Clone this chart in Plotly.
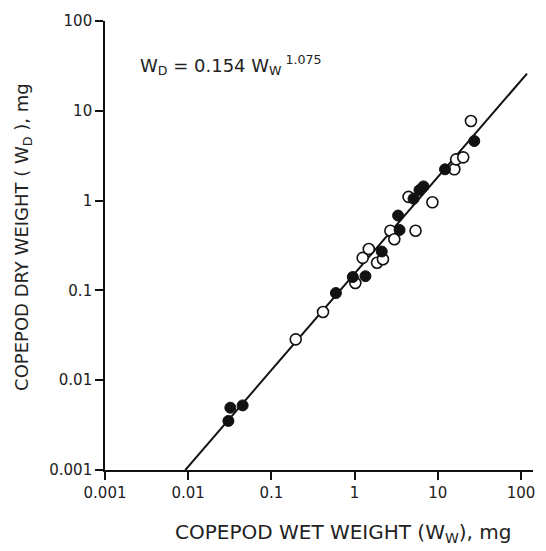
import plotly.graph_objects as go

# Tick positions / labels
tick_vals = [0.001, 0.01, 0.1, 1, 10, 100]
tick_text = ["0.001", "0.01", "0.1", "1", "10", "100"]

# Open circles (wet weight mg, dry weight mg)
open_wet = [0.196, 0.417, 1.02, 1.25, 1.48, 1.86, 2.19, 2.69, 3.00, 5.40, 4.45, 8.61, 15.8, 16.6, 20.2, 25.0]
open_dry = [0.0285, 0.0574, 0.121, 0.230, 0.289, 0.203, 0.222, 0.462, 0.371, 0.462, 1.10, 0.957, 2.23, 2.88, 3.03, 7.7]

# Filled circles
fill_wet = [0.0304, 0.0321, 0.0451, 0.596, 0.951, 1.35, 2.12, 3.47, 3.33, 5.11, 6.02, 6.73, 12.2, 27.4]
fill_dry = [0.00352, 0.00494, 0.00524, 0.0935, 0.141, 0.144, 0.271, 0.471, 0.682, 1.05, 1.31, 1.44, 2.23, 4.61]

# Regression W_D = a * W_W ^ b, drawn between these wet weights
coef_a = 0.154
coef_b = 1.075
fit_wet = [0.0092, 118]
fit_dry = [coef_a * w ** coef_b for w in fit_wet]

FONT = "DejaVu Sans"

fig = go.Figure()
fig.add_trace(go.Scatter(x=fit_wet, y=fit_dry, mode="lines",
                         line=dict(color="#111", width=2), showlegend=False,
                         cliponaxis=False))
fig.add_trace(go.Scatter(x=open_wet, y=open_dry, mode="markers",
                         marker=dict(symbol="circle", size=11, color="white",
                                     line=dict(color="#111", width=1.6)),
                         showlegend=False))
fig.add_trace(go.Scatter(x=fill_wet, y=fill_dry, mode="markers",
                         marker=dict(symbol="circle", size=11, color="#111",
                                     line=dict(color="#111", width=1)),
                         showlegend=False))

axis_common = dict(type="log", showgrid=False, zeroline=False, showline=True,
                   linecolor="#111", linewidth=1.6, ticks="outside", ticklen=8,
                   tickwidth=1.5, tickcolor="#111", tickvals=tick_vals,
                   ticktext=tick_text,
                   tickfont=dict(family=FONT, size=15, color="#222"))

fig.update_xaxes(range=[-3, 2.144], **axis_common)
fig.update_yaxes(range=[-3, 2], **axis_common)

fig.add_annotation(text="COPEPOD WET WEIGHT (W<sub>W</sub>), mg",
                   xref="paper", yref="paper", x=0.558, y=-0.14,
                   xanchor="center", yanchor="middle", showarrow=False,
                   font=dict(family=FONT, size=20, color="#222"))
fig.add_annotation(text="COPEPOD DRY WEIGHT ( W<sub>D</sub> ), mg",
                   xref="paper", yref="paper", x=-0.193, y=0.52,
                   xanchor="center", yanchor="middle", textangle=-90,
                   showarrow=False,
                   font=dict(family=FONT, size=18, color="#222"))
fig.add_annotation(text="W<sub>D</sub> = 0.154 W<sub>W</sub><sup> 1.075</sup>",
                   xref="paper", yref="paper", x=0.077, y=0.902,
                   xanchor="left", yanchor="middle", showarrow=False,
                   font=dict(family=FONT, size=18, color="#222"))

fig.update_layout(width=546, height=551,
                  margin=dict(l=105, r=11, t=21, b=81),
                  plot_bgcolor="white", paper_bgcolor="white")

fig.write_html("out.html")
